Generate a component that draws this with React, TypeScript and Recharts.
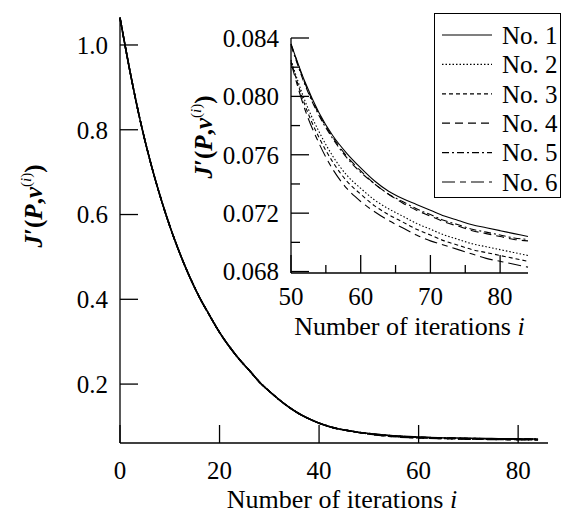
import { Line, LineChart, XAxis, YAxis } from "recharts";

const FONT = '"Liberation Serif", "Times New Roman", serif';

// main curve, i = 0..48 (all six runs coincide here)
const mainIter = [0, 2, 4, 6, 8, 10, 12, 14, 16, 18, 20, 22, 24, 26, 28, 30, 32, 34, 36, 38, 40, 42, 44, 46, 48];
const mainHead = [
  1.064, 0.938, 0.825, 0.729, 0.646, 0.573, 0.509, 0.453, 0.404, 0.362, 0.322, 0.288, 0.258,
  0.232, 0.205, 0.183, 0.163, 0.145, 0.13, 0.118, 0.108, 0.1, 0.094, 0.09, 0.086,
];

// zoomed part, i = 50..84
const insetIter = [50, 52, 54, 56, 58, 60, 62, 64, 66, 68, 70, 72, 74, 76, 78, 80, 82, 84];
const no1 = [0.0836, 0.081, 0.0789, 0.0773, 0.0761, 0.0751, 0.0742, 0.0735, 0.073, 0.0726, 0.0722, 0.0718, 0.0715, 0.0712, 0.071, 0.0708, 0.0706, 0.0704];
const no2 = [0.0825, 0.0797, 0.0776, 0.0759, 0.0746, 0.0737, 0.0729, 0.0723, 0.0718, 0.0713, 0.0709, 0.0705, 0.0702, 0.0699, 0.0697, 0.0695, 0.0693, 0.0691];
const no3 = [0.0824, 0.0794, 0.0772, 0.0755, 0.0742, 0.0733, 0.0725, 0.0719, 0.0714, 0.0709, 0.0705, 0.0701, 0.0698, 0.0695, 0.0693, 0.0691, 0.0689, 0.0687];
const no4 = [0.0836, 0.0809, 0.0788, 0.0772, 0.0759, 0.0749, 0.074, 0.0733, 0.0727, 0.0722, 0.0718, 0.0714, 0.0711, 0.0708, 0.0706, 0.0704, 0.0702, 0.0701];
const no5 = [0.0835, 0.0808, 0.0787, 0.0771, 0.0758, 0.0748, 0.074, 0.0733, 0.0728, 0.0723, 0.0719, 0.0715, 0.0712, 0.0709, 0.0707, 0.0705, 0.0703, 0.0702];
const no6 = [0.0823, 0.0791, 0.0768, 0.075, 0.0737, 0.0728, 0.0721, 0.0715, 0.071, 0.0705, 0.0701, 0.0698, 0.0695, 0.0692, 0.0689, 0.0687, 0.0685, 0.0683];

const mainXTicks = [0, 20, 40, 60, 80];
const mainYTicks = [0.2, 0.4, 0.6, 0.8, 1.0];
const insetXTicks = [50, 55, 60, 65, 70, 75, 80];
const insetXLabels = [50, 60, 70, 80];
const insetYTicks = [0.068, 0.07, 0.072, 0.074, 0.076, 0.078, 0.08, 0.082, 0.084];
const insetYLabels = [0.068, 0.072, 0.076, 0.08, 0.084];

const SERIES = [
  { key: "no1", name: "No. 1", values: no1, dash: undefined },
  { key: "no2", name: "No. 2", values: no2, dash: "1.5 2" },
  { key: "no3", name: "No. 3", values: no3, dash: "4 3" },
  { key: "no4", name: "No. 4", values: no4, dash: "8 5" },
  { key: "no5", name: "No. 5", values: no5, dash: "7 3 2 3" },
  { key: "no6", name: "No. 6", values: no6, dash: "13 5 6 5" },
];

const mainData = [
  ...mainIter.map((i, k) => ({ i, ...Object.fromEntries(SERIES.map((s) => [s.key, mainHead[k]])) })),
  ...insetIter.map((i, k) => ({ i, ...Object.fromEntries(SERIES.map((s) => [s.key, s.values[k]])) })),
];
const insetData = insetIter.map((i, k) => ({
  i,
  ...Object.fromEntries(SERIES.map((s) => [s.key, s.values[k]])),
}));

const AXIS = { stroke: "#000", strokeWidth: 1.3 };
const near = (list: number[], v: number) => list.some((t) => Math.abs(t - v) < 1e-9);

function leftTick(labels: number[] | null, fmt: (v: number) => string, fontSize: number) {
  return (p: any) => {
    const v = p.payload.value;
    const major = !labels || near(labels, v);
    return (
      <g>
        <line x1={p.x} x2={p.x + (major ? 18 : 9)} y1={p.y} y2={p.y} stroke="#000" strokeWidth={1.3} />
        {major && (
          <text x={p.x - 12} y={p.y} dy="0.35em" textAnchor="end" fontFamily={FONT} fontSize={fontSize} fill="#000">
            {fmt(v)}
          </text>
        )}
      </g>
    );
  };
}

function bottomTick(labels: number[] | null, base: number, fontSize: number) {
  return (p: any) => {
    const v = p.payload.value;
    const major = !labels || near(labels, v);
    return (
      <g>
        <line x1={p.x} x2={p.x} y1={p.y} y2={p.y - (major ? 18 : 8)} stroke="#000" strokeWidth={1.3} />
        {major && (
          <text x={p.x} y={p.y + base} textAnchor="middle" fontFamily={FONT} fontSize={fontSize} fill="#000">
            {v}
          </text>
        )}
      </g>
    );
  };
}

function XTitle({ viewBox, dx, dy }: any) {
  const vb = viewBox ?? { x: 0, y: 0, width: 0 };
  return (
    <text x={vb.x + vb.width / 2 + dx} y={vb.y + dy} textAnchor="middle" fontFamily={FONT} fontSize={26} fill="#000">
      Number of iterations <tspan fontStyle="italic">i</tspan>
    </text>
  );
}

function YTitle({ viewBox, dx, dy }: any) {
  const vb = viewBox ?? { x: 0, y: 0 };
  const cx = vb.x + dx;
  const cy = vb.y + dy;
  return (
    <text
      x={cx}
      y={cy}
      transform={`rotate(-90, ${cx}, ${cy})`}
      textAnchor="middle"
      fontFamily={FONT}
      fontSize={25}
      fontWeight="bold"
      fill="#000"
    >
      <tspan fontStyle="italic">J</tspan>
      <tspan>′(</tspan>
      <tspan fontStyle="italic">P</tspan>
      <tspan>,</tspan>
      <tspan fontStyle="italic">v</tspan>
      <tspan dy={-11} fontSize={15} fontWeight="normal">(</tspan>
      <tspan fontSize={15} fontWeight="normal" fontStyle="italic">i</tspan>
      <tspan fontSize={15} fontWeight="normal">)</tspan>
      <tspan dy={11}>)</tspan>
    </text>
  );
}

function LegendBox() {
  return (
    <div
      style={{
        position: "absolute",
        left: 434,
        top: 13,
        width: 127,
        height: 185,
        boxSizing: "border-box",
        border: "1.3px solid #000",
        background: "#fff",
      }}
    >
      <svg width={125} height={183}>
        {SERIES.map((s, k) => {
          const y = 21 + k * 29.4;
          return (
            <g key={s.key}>
              <line x1={7} x2={57} y1={y} y2={y} stroke="#000" strokeWidth={1.2} strokeDasharray={s.dash} />
              <text x={67} y={y} dy="0.35em" fontFamily={FONT} fontSize={25} fill="#000">
                {s.name}
              </text>
            </g>
          );
        })}
      </svg>
    </div>
  );
}

export default function App() {
  return (
    <div style={{ position: "absolute", left: 0, top: 0, width: 563, height: 518, background: "#fff" }}>
      {/* main chart */}
      <div style={{ position: "absolute", left: 0, top: 0 }}>
        <LineChart width={563} height={518} data={mainData} margin={{ top: 17, right: 15, left: 0, bottom: 0 }}>
          <XAxis
            dataKey="i"
            type="number"
            domain={[0, 86]}
            ticks={mainXTicks}
            interval={0}
            height={75}
            tickSize={0}
            tickMargin={0}
            tickLine={false}
            axisLine={AXIS}
            tick={bottomTick(null, 36, 25)}
            label={<XTitle dx={8} dy={65} />}
          />
          <XAxis xAxisId="top" orientation="top" dataKey="i" type="number" domain={[0, 86]} height={0} tick={false} tickLine={false} axisLine={AXIS} />
          <YAxis
            type="number"
            domain={[0.061, 1.066]}
            ticks={mainYTicks}
            interval={0}
            width={120}
            tickSize={0}
            tickMargin={0}
            tickLine={false}
            axisLine={AXIS}
            tick={leftTick(null, (v) => v.toFixed(1), 25)}
            label={<YTitle dx={42} dy={189} />}
          />
          <YAxis yAxisId="right" orientation="right" type="number" domain={[0, 1]} width={0} tick={false} tickLine={false} axisLine={AXIS} />
          {SERIES.map((s) => (
            <Line
              key={s.key}
              dataKey={s.key}
              type="monotone"
              stroke="#000"
              strokeWidth={1.5}
              strokeDasharray={s.dash}
              dot={false}
              isAnimationActive={false}
            />
          ))}
        </LineChart>
      </div>

      {/* inset: iterations 50..84 */}
      <div style={{ position: "absolute", left: 180, top: 0 }}>
        <LineChart width={383} height={345} data={insetData} margin={{ top: 38, right: 35, left: 0, bottom: 0 }}>
          <XAxis
            dataKey="i"
            type="number"
            domain={[50, 84]}
            ticks={insetXTicks}
            interval={0}
            height={72}
            tickSize={0}
            tickMargin={0}
            tickLine={false}
            axisLine={AXIS}
            tick={bottomTick(insetXLabels, 32, 25)}
            label={<XTitle dx={0} dy={62} />}
          />
          <XAxis xAxisId="top" orientation="top" dataKey="i" type="number" domain={[50, 84]} height={0} tick={false} tickLine={false} axisLine={AXIS} />
          <YAxis
            type="number"
            domain={[0.0679, 0.084]}
            ticks={insetYTicks}
            interval={0}
            width={111}
            tickSize={0}
            tickMargin={0}
            tickLine={false}
            axisLine={AXIS}
            allowDataOverflow
            tick={leftTick(insetYLabels, (v) => v.toFixed(3), 25)}
            label={<YTitle dx={32} dy={99} />}
          />
          <YAxis yAxisId="right" orientation="right" type="number" domain={[0, 1]} width={0} tick={false} tickLine={false} axisLine={AXIS} />
          {SERIES.map((s) => (
            <Line
              key={s.key}
              dataKey={s.key}
              type="monotone"
              stroke="#000"
              strokeWidth={1.1}
              strokeDasharray={s.dash}
              dot={false}
              isAnimationActive={false}
            />
          ))}
        </LineChart>
      </div>

      <LegendBox />
    </div>
  );
}
